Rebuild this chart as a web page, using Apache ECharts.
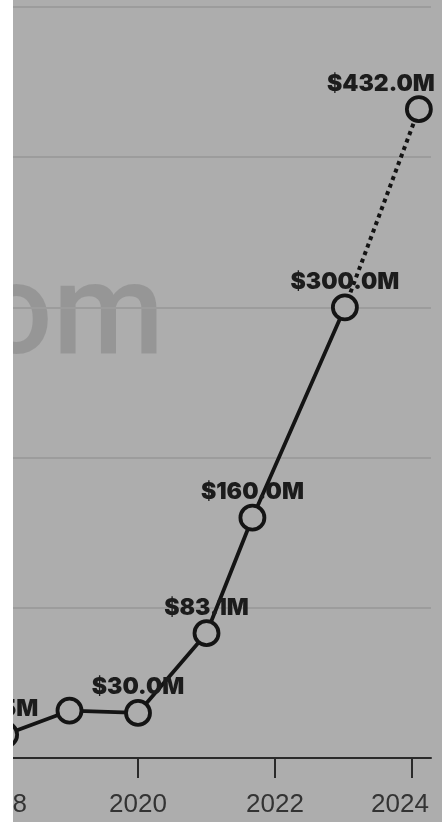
<!DOCTYPE html>
<html>
<head>
<meta charset="utf-8">
<script src="https://cdn.jsdelivr.net/npm/echarts@6.0.0/dist/echarts.min.js"></script>
<style>
  html, body { margin: 0; padding: 0; background: #ffffff; }
  #chart { position: absolute; left: 13px; top: 0; width: 429px; height: 822px; }
</style>
</head>
<body>
<div id="chart"></div>
<script>
// Funding over time (fractional years on the x axis, millions of dollars on y)
const years   = [2018.06, 2019.0, 2020.0, 2021.0, 2021.67, 2023.02, 2024.1];
const valuesM = [15.5, 31.5, 30.0, 83.1, 160.0, 300.0, 432.0];
const showLabel = [true, false, true, true, true, true, true];
const yearTicks = [2018, 2020, 2022, 2024];
const lastActual = 5; // points after this index are projected (dotted)

const BG = '#adadad';
const INK = '#141414';

function fmt(v) { return '$' + v.toFixed(1) + 'M'; }

const labelStyle = {
  position: 'top',
  distance: 0,
  fontFamily: 'Inter',
  fontWeight: 900,
  fontSize: 23,
  color: '#1c1c1c',
  formatter: p => fmt(p.value[1])
};

// edge labels are nudged inward so they stay inside the frame
const labelOffsets = [[-10, 0], [0, 0], [0, 0], [0, 0], [0, 0], [0, 0], [-38, 0]];

const solidData = [];
for (let i = 0; i <= lastActual; i++) {
  solidData.push({
    value: [years[i], valuesM[i]],
    label: { show: showLabel[i], offset: labelOffsets[i] }
  });
}
const dottedData = [];
for (let i = lastActual; i < years.length; i++) {
  const item = { value: [years[i], valuesM[i]], label: { show: false } };
  if (i === lastActual) item.symbol = 'none';
  else item.label = { show: showLabel[i], offset: labelOffsets[i] };
  dottedData.push(item);
}

const tickFont = { fontFamily: 'Liberation Sans', fontSize: 26, color: '#333333' };

const chart = echarts.init(document.getElementById('chart'), null, { renderer: 'canvas' });
chart.setOption({
  backgroundColor: BG,
  animation: false,
  grid: { left: -12, right: 11, top: 7, bottom: 64, containLabel: false, outerBoundsMode: 'none' },
  graphic: [{
    type: 'text',
    z: 0,
    left: -33,
    top: 257,
    silent: true,
    style: {
      text: 'om',
      fontFamily: 'Roboto',
      fontWeight: 500,
      fontSize: 128,
      fill: 'rgba(0,0,0,0.13)'
    }
  }],
  xAxis: {
    type: 'value',
    min: 2018,
    max: 2024.277,
    axisLine: { show: true, lineStyle: { color: '#2a2a2a', width: 2 } },
    axisTick: { show: true, customValues: yearTicks, length: 20, lineStyle: { color: '#2a2a2a', width: 2 } },
    axisLabel: Object.assign({
      customValues: yearTicks,
      margin: 34,
      hideOverlap: false,
      showMinLabel: true,
      showMaxLabel: true,
      formatter: v => {
        if (v === yearTicks[0]) return '{first|' + v + '}';
        if (v === yearTicks[yearTicks.length - 1]) return '{last|' + v + '}';
        return String(v);
      },
      rich: {
        first: Object.assign({ padding: [0, 6, 0, 0] }, tickFont),
        last: Object.assign({ padding: [0, 24, 0, 0] }, tickFont)
      }
    }, tickFont),
    splitLine: { show: false }
  },
  yAxis: {
    type: 'value',
    min: 0,
    max: 500,
    interval: 100,
    axisLine: { show: false },
    axisTick: { show: false },
    axisLabel: { show: false },
    splitLine: { show: true, lineStyle: { color: '#9c9c9c', width: 2 } }
  },
  series: [
    {
      type: 'line',
      z: 2,
      clip: false,
      data: dottedData,
      symbol: 'circle',
      symbolSize: 24,
      itemStyle: { color: BG, borderColor: INK, borderWidth: 3.8 },
      lineStyle: { color: INK, width: 4, type: [4, 4], cap: 'butt' },
      label: labelStyle
    },
    {
      type: 'line',
      z: 3,
      clip: false,
      data: solidData,
      symbol: 'circle',
      symbolSize: 24,
      itemStyle: { color: BG, borderColor: INK, borderWidth: 3.8 },
      lineStyle: { color: INK, width: 3.8 },
      label: labelStyle
    }
  ]
});
</script>
</body>
</html>
